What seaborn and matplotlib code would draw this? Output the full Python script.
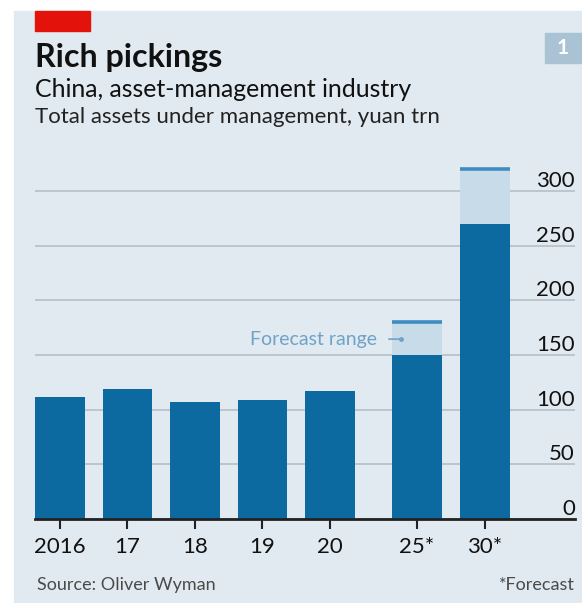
import matplotlib
matplotlib.use("Agg")
import matplotlib.pyplot as plt
from matplotlib import font_manager as fm
from matplotlib.patches import Rectangle
import seaborn as sns

# chart data, yuan trn
year_labels = ["2016", "17", "18", "19", "20", "25*", "30*"]
x_pos = [0, 1, 2, 3, 4, 5.29, 6.29]
aum = [112, 119, 107, 108.5, 117, 150, 270]
forecast_pos = [5.29, 6.29]
forecast_high = [180, 320]
y_ticks = [0, 50, 100, 150, 200, 250, 300]

sns.set_theme(style="white")
names = {f.name for f in fm.fontManager.ttflist}
font = "Liberation Sans Narrow" if "Liberation Sans Narrow" in names else "Lato"
plt.rcParams["font.family"] = [font, "DejaVu Sans"]

W, H = 582, 603
fig = plt.figure(figsize=(W / 100, H / 100), dpi=100, facecolor="white")

def fx(px):
    return px / W

def fy(py):
    return 1 - py / H

# background panel, red tag and chart number box
fig.patches.append(Rectangle((fx(14), 0), 1, fy(11), transform=fig.transFigure,
                             color="#e1eaf0", zorder=-5))
fig.patches.append(Rectangle((fx(35), fy(31)), fx(55), 20 / H, transform=fig.transFigure,
                             color="#e3120b", zorder=1))
fig.patches.append(Rectangle((fx(545), fy(63)), fx(40), 30 / H, transform=fig.transFigure,
                             color="#a9c2d4", zorder=1))
fig.text(fx(563), fy(48), "1", color="white", fontsize=15, fontweight="bold",
         ha="center", va="center")

fig.text(fx(35), fy(67), "Rich pickings", fontsize=23.2, fontweight="bold",
         color="#111111", va="baseline")
fig.text(fx(35), fy(97), "China, asset-management industry", fontsize=17.9,
         color="#111111", va="baseline")
fig.text(fx(35), fy(123), "Total assets under management, yuan trn", fontsize=16,
         color="#222222", va="baseline")

ax = fig.add_axes([fx(35), fy(519), fx(575) - fx(35), (519 - 169) / H])
ax.set_facecolor("none")
ax.set_zorder(2)

dark = "#0d6aa1"
light = "#c7dbe8"
rim = "#3f8cc3"

sns.barplot(x=forecast_pos, y=forecast_high, native_scale=True, width=0.74,
            color=light, saturation=1, linewidth=0, ax=ax, zorder=2)
n_light = len(ax.patches)
sns.barplot(x=x_pos, y=aum, native_scale=True, width=0.74,
            color=dark, saturation=1, linewidth=0, ax=ax, zorder=3)

# thin line marking top of the forecast range
for p, hi in zip(ax.patches[:n_light], forecast_high):
    ax.hlines(hi, p.get_x(), p.get_x() + p.get_width(), color=rim, lw=2.6,
              zorder=4, clip_on=False)

ax.set_xlim(-0.37, 7.63)
ax.set_ylim(0, 320)
ax.set_yticks(y_ticks)
ax.set_yticklabels([str(v) for v in y_ticks])
ax.yaxis.tick_right()
ax.tick_params(axis="y", length=0, pad=0, labelsize=16, labelcolor="#111111")
for lab in ax.get_yticklabels():
    lab.set_horizontalalignment("right")
    lab.set_verticalalignment("bottom")
ax.grid(axis="y", color="#b9c3cb", lw=1.3, zorder=1)
ax.set_axisbelow(True)

ax.set_xticks(x_pos)
ax.set_xticklabels(year_labels)
ax.tick_params(axis="x", length=7, width=1.5, color="#222222", pad=6,
               labelsize=16, labelcolor="#111111", bottom=True)
for s in ["top", "left", "right"]:
    ax.spines[s].set_visible(False)
ax.spines["bottom"].set_color("#222222")
ax.spines["bottom"].set_linewidth(2)
ax.spines["bottom"].set_zorder(5)
ax.set_xlabel("")
ax.set_ylabel("")

ax.annotate("Forecast range", xy=(5.05, 164.5), xytext=(4.7, 164.5),
            ha="right", va="center", fontsize=14, color="#6fa3c7", zorder=6,
            arrowprops=dict(arrowstyle="-", color="#6fa3c7", lw=1.2,
                            shrinkA=6, shrinkB=0))
ax.plot([5.05], [164.5], "o", ms=2.5, color="#6fa3c7", zorder=6)

fig.text(fx(37), fy(590), "Source: Oliver Wyman", fontsize=13, color="#4a4a4a",
         va="baseline")
fig.text(fx(575), fy(590), "*Forecast", fontsize=13, color="#4a4a4a",
         va="baseline", ha="right")

fig.savefig("out.png", dpi=100, facecolor="white")
